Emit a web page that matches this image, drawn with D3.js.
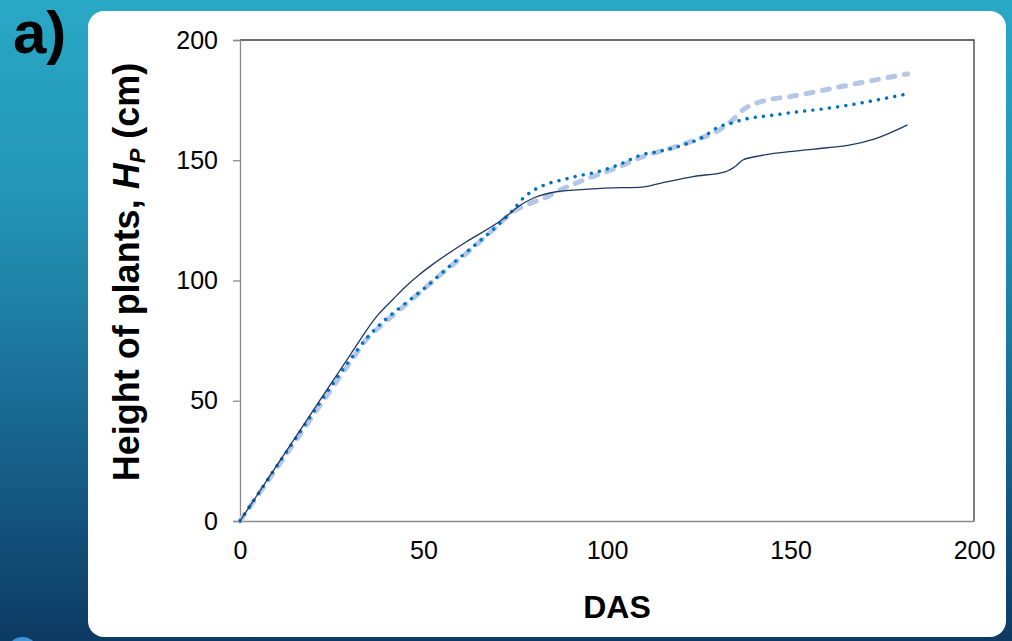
<!DOCTYPE html>
<html>
<head>
  <meta charset="utf-8">
  <title>Height of plants vs DAS</title>
  <script src="https://d3js.org/d3.v7.min.js"></script>
  <style>
    html, body { margin: 0; padding: 0; }
    body { font-family: "Liberation Sans", Arial, sans-serif; }
    svg { display: block; }
  </style>
</head>
<body>
  <div id="chart"></div>
  <script>
    // series: [DAS, height cm]
    const solidSeries = [
      [0, 0], [10, 23], [21.8, 50.3], [30, 69], [37.2, 85], [41.7, 92.2], [45, 97.3],
      [49, 102.6], [52.6, 106.8], [61.7, 116.1], [70.7, 124.5], [77.1, 132], [80, 134.3],
      [86.2, 136.9], [95, 138], [104, 138.6], [108.8, 138.7], [115, 140.6], [123.4, 143.2],
      [132.4, 145.3], [135, 147.5], [137, 150.1], [141.5, 151.8], [152.4, 154], [160, 155.2],
      [166, 156.3], [173.2, 159], [181.9, 164.7]
    ];
    const dottedSeries = [
      [0, 0], [15, 34], [30, 67], [34.5, 76], [39, 82.9], [44, 89.2], [49.9, 96.3], [57, 105.8],
      [64.2, 115], [69.8, 122.3], [74.4, 129.3], [77.4, 134.6], [79.1, 136.6], [83.4, 140],
      [87.7, 141.8], [92.5, 143.6], [97, 145], [103, 148], [109.8, 152.4], [114, 153.6],
      [120, 156], [126, 159.5], [130.6, 164], [133.8, 165.4], [135.9, 166.4], [147.4, 169.2],
      [163.3, 172.3], [181.9, 177.6]
    ];
    const dashedSeries = [
      [0, 0], [15, 33], [30, 66], [34.5, 75.5], [39, 82], [44, 88.5], [49, 95], [53.5, 101],
      [61.7, 111.3], [68.9, 121], [74.4, 128.6], [79, 132], [83.4, 134.6], [86.4, 137],
      [96.1, 143.2], [103.4, 147.3], [107.9, 150.4], [118.8, 155.7], [125.2, 159],
      [130.6, 162.6], [134.2, 166.7], [137, 170.9], [140.6, 173.7], [152.4, 177.1],
      [166, 181.3], [181.9, 185.9]
    ];
    const xTicks = [0, 50, 100, 150, 200];
    const yTicks = [0, 50, 100, 150, 200];

    const width = 1012, height = 641;
    const svg = d3.select("#chart").append("svg")
      .attr("width", width)
      .attr("height", height);

    // slide background
    const defs = svg.append("defs");
    const grad = defs.append("linearGradient")
      .attr("id", "bg").attr("x1", 0).attr("y1", 0).attr("x2", 0).attr("y2", 1);
    [["0%", "#29a8c6"], ["30%", "#2496b7"], ["60%", "#1a6f98"], ["100%", "#0d3a63"]]
      .forEach(s => grad.append("stop").attr("offset", s[0]).attr("stop-color", s[1]));
    svg.append("rect").attr("width", width).attr("height", height).attr("fill", "url(#bg)");
    svg.append("circle").attr("cx", 22.5).attr("cy", 653).attr("r", 16).attr("fill", "#3f95d5");

    // white panel
    svg.append("rect")
      .attr("x", 88).attr("y", 11).attr("width", 918).attr("height", 626)
      .attr("rx", 16).attr("fill", "#fff");

    svg.append("text")
      .attr("x", 13).attr("y", 53)
      .style("font-size", "60px").style("font-weight", "bold")
      .text("a)");

    const x = d3.scaleLinear().domain([0, 200]).range([240, 974]);
    const y = d3.scaleLinear().domain([0, 200]).range([521, 40]);

    // plot frame: top/right dark
    svg.append("path")
      .attr("d", `M${x(0)},${y(200)}H${x(200)}V${y(0)}`)
      .attr("fill", "none").attr("stroke", "#3a3a3a").attr("stroke-width", 1.3);

    const yAxis = svg.append("g")
      .attr("transform", `translate(${x(0)},0)`)
      .call(d3.axisLeft(y).tickValues(yTicks).tickSize(7).tickPadding(15));
    const xAxis = svg.append("g")
      .attr("transform", `translate(0,${y(0)})`)
      .call(d3.axisBottom(x).tickValues(xTicks).tickSize(0).tickPadding(20));

    [yAxis, xAxis].forEach(g => {
      g.selectAll("path, line").attr("stroke", "#8c8c8c").attr("stroke-width", 1.3);
      g.selectAll("text")
        .attr("fill", "#000")
        .style("font-size", "25px")
        .style("font-family", "'Liberation Sans', Arial, sans-serif");
    });

    const line = d3.line()
      .x(d => x(d[0]))
      .y(d => y(d[1]))
      .curve(d3.curveMonotoneX);

    svg.append("path")
      .datum(dashedSeries)
      .attr("d", line)
      .attr("fill", "none")
      .attr("stroke", "#b4c7e7")
      .attr("stroke-width", 5)
      .attr("stroke-linecap", "round")
      .attr("stroke-dasharray", "7 9.7");

    svg.append("path")
      .datum(dottedSeries)
      .attr("d", line)
      .attr("fill", "none")
      .attr("stroke", "#0070c0")
      .attr("stroke-width", 3.4)
      .attr("stroke-linecap", "round")
      .attr("stroke-dasharray", "0.1 8.2");

    svg.append("path")
      .datum(solidSeries)
      .attr("d", line)
      .attr("fill", "none")
      .attr("stroke", "#203864")
      .attr("stroke-width", 1.3);

    // axis titles
    svg.append("text")
      .attr("x", 617).attr("y", 618)
      .attr("text-anchor", "middle")
      .style("font-size", "32px").style("font-weight", "bold")
      .text("DAS");

    const yTitle = svg.append("text")
      .attr("transform", "translate(139,272) rotate(-90)")
      .attr("text-anchor", "middle")
      .style("font-size", "36px").style("font-weight", "bold");
    yTitle.append("tspan").text("Height of plants, ");
    yTitle.append("tspan").style("font-style", "italic").text("H");
    yTitle.append("tspan").style("font-style", "italic").style("font-size", "22px")
      .attr("dy", 6).text("P");
    yTitle.append("tspan").attr("dy", -6).text(" (cm)");
  </script>
</body>
</html>
